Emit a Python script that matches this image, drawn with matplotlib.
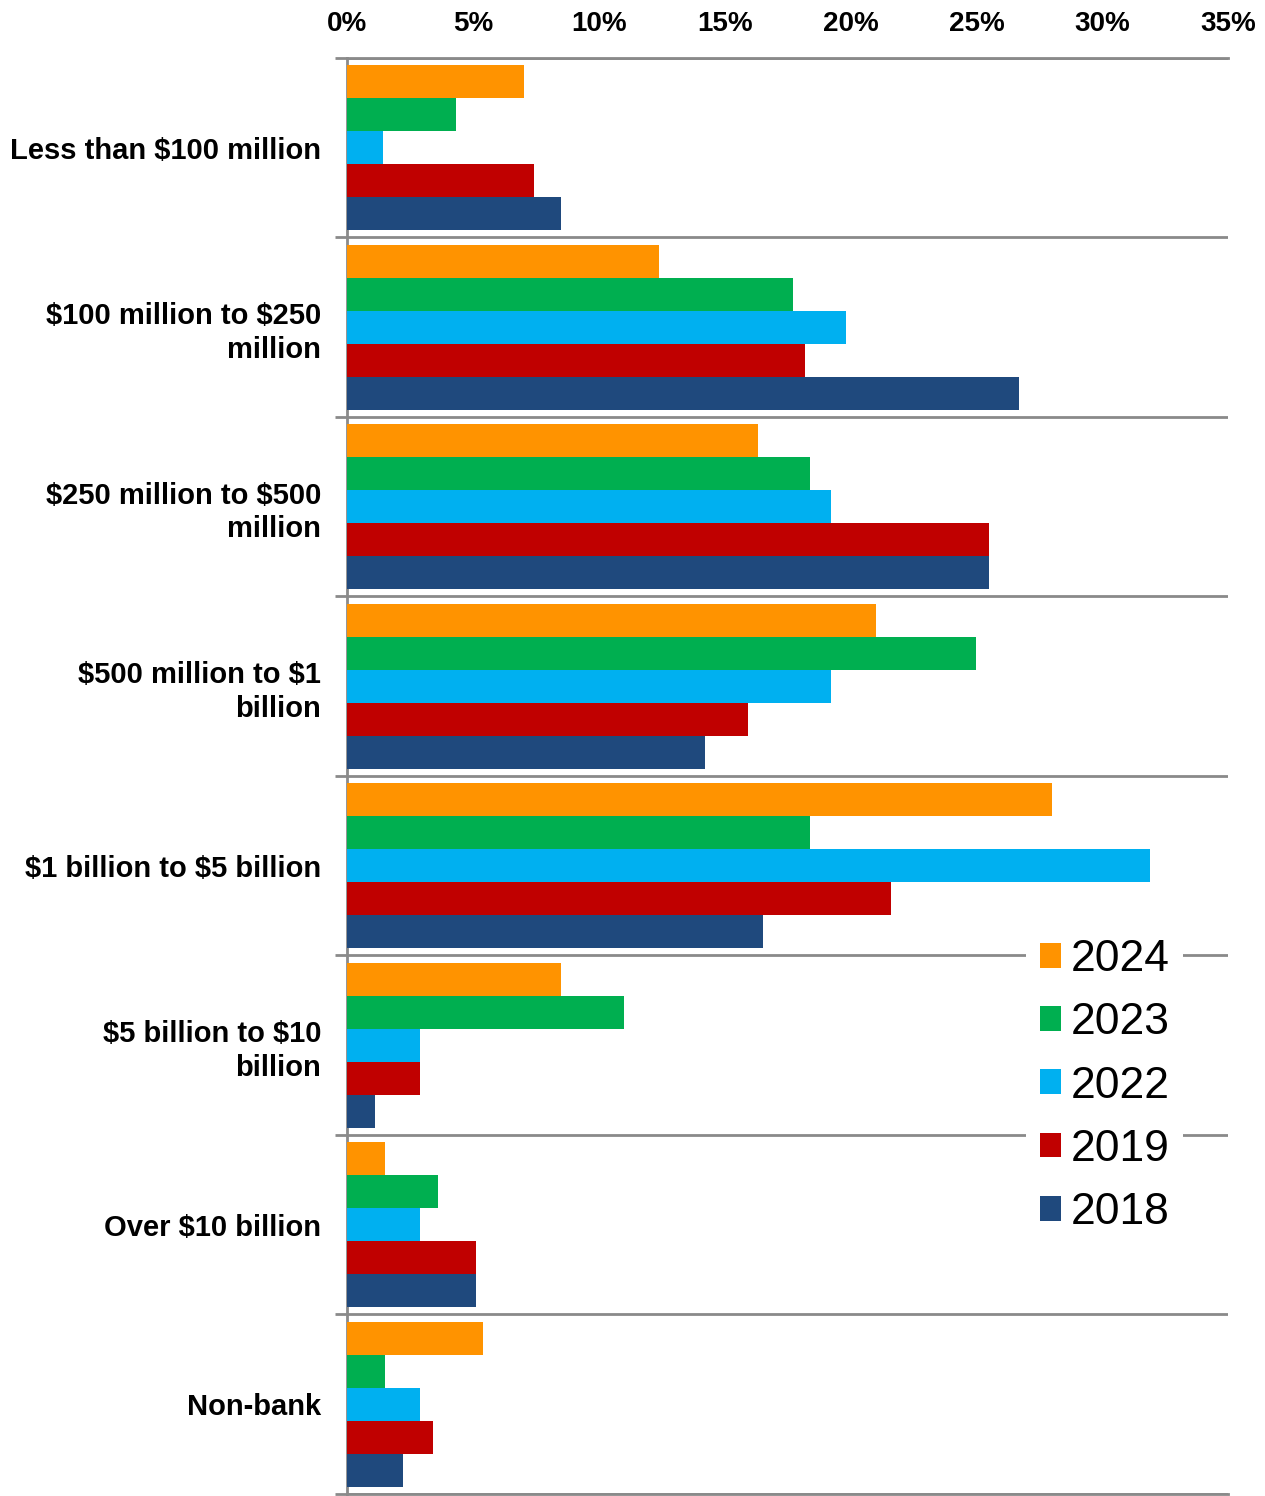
import matplotlib
matplotlib.use("Agg")
import matplotlib.pyplot as plt
from matplotlib.patches import Patch

# asset-size buckets, top to bottom
categories = [
    "Less than $100 million",
    "$100 million to $250\nmillion",
    "$250 million to $500\nmillion",
    "$500 million to $1\nbillion",
    "$1 billion to $5 billion",
    "$5 billion to $10\nbillion",
    "Over $10 billion",
    "Non-bank",
]
years = ["2024", "2023", "2022", "2019", "2018"]

# share of respondents, in %
pct_2024 = [7.0, 12.4, 16.3, 21.0, 28.0, 8.5, 1.5, 5.4]
pct_2023 = [4.3, 17.7, 18.4, 25.0, 18.4, 11.0, 3.6, 1.5]
pct_2022 = [1.4, 19.8, 19.2, 19.2, 31.9, 2.9, 2.9, 2.9]
pct_2019 = [7.4, 18.2, 25.5, 15.9, 21.6, 2.9, 5.1, 3.4]
pct_2018 = [8.5, 26.7, 25.5, 14.2, 16.5, 1.1, 5.1, 2.2]

x_ticks = [0, 5, 10, 15, 20, 25, 30, 35]
x_tick_labels = ["0%", "5%", "10%", "15%", "20%", "25%", "30%", "35%"]

COLORS = {
    "2024": "#FF9300",
    "2023": "#00AF50",
    "2022": "#00B0F0",
    "2019": "#C00000",
    "2018": "#1F497D",
}
GRID = "#8A8A8A"

plt.rcParams["font.family"] = ["Liberation Sans", "DejaVu Sans"]

fig = plt.figure(figsize=(12.65, 14.96), dpi=100)
ax = fig.add_axes([0.2747, 0.00134, 0.6961, 0.95989])

series = [pct_2024, pct_2023, pct_2022, pct_2019, pct_2018]
bar_h = 0.184
n_cat = len(categories)
for k, (year, vals) in enumerate(zip(years, series)):
    centers = [i + 0.5 + (k - 2) * bar_h for i in range(n_cat)]
    ax.barh(centers, vals, height=bar_h, color=COLORS[year],
            linewidth=0, zorder=3)

ax.set_xlim(0, 35)
ax.set_ylim(n_cat, 0)

# x axis labels sit above the plot
ax.xaxis.tick_top()
ax.set_xticks(x_ticks)
ax.set_xticklabels(x_tick_labels, fontsize=20, fontweight="bold")
ax.tick_params(axis="x", length=0, pad=15)

# major y ticks = category separators, minor ticks carry the labels
ax.set_yticks(range(n_cat + 1))
ax.set_yticklabels([""] * (n_cat + 1))
ax.set_yticks([i + 0.5 for i in range(n_cat)], minor=True)
ax.set_yticklabels([c.replace("$", r"\$") for c in categories], minor=True,
                   fontsize=21, fontweight="bold", linespacing=1.25)
ax.tick_params(axis="y", which="major", length=9, width=2, color=GRID,
               direction="out")
ax.tick_params(axis="y", which="minor", length=0, pad=19)
ax.yaxis.grid(True, which="major", color=GRID, linewidth=2)
ax.set_axisbelow(True)

for side in ("left", "top", "bottom"):
    ax.spines[side].set_color(GRID)
    ax.spines[side].set_linewidth(2)
ax.spines["right"].set_visible(False)

handles = [Patch(facecolor=COLORS[y], edgecolor="none", label=y) for y in years]
leg = ax.legend(handles=handles, loc="center left",
                bbox_to_anchor=(1004 / 1265, 1 - 1086 / 1496),
                bbox_transform=fig.transFigure, fontsize=32,
                handlelength=0.48, handleheight=0.48, handletextpad=0.22,
                labelspacing=0.5, borderpad=0.3, frameon=True, fancybox=False,
                facecolor="white", edgecolor="none", framealpha=1)

fig.savefig("out.png", dpi=100)
